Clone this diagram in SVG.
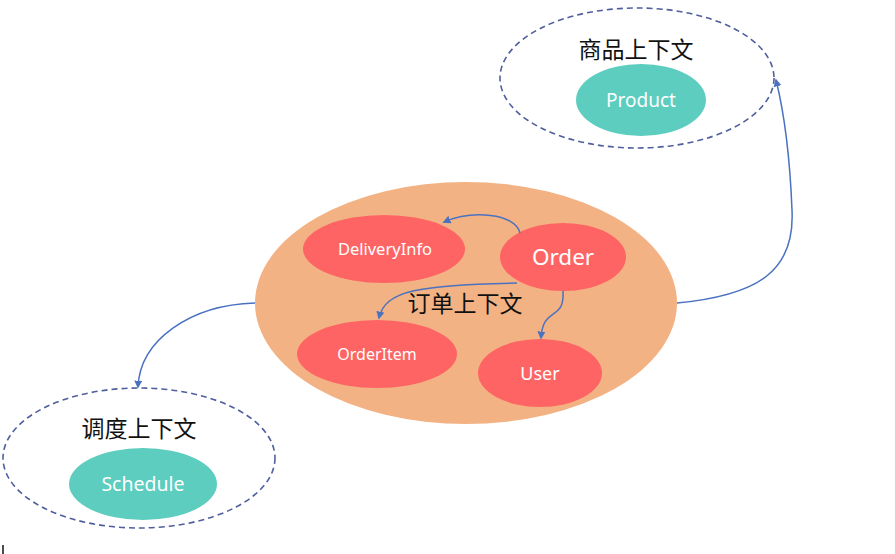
<svg xmlns="http://www.w3.org/2000/svg" width="895" height="554" viewBox="0 0 895 554">
<defs>
<style>
.ctx{fill:none;stroke:#4f5f9e;stroke-width:1.6;stroke-dasharray:6 4}
.teal{fill:#5ccdbf}
.red{fill:#fe6464}
.big{fill:#f3b283}
.lbl{font-family:"Noto Sans","Noto Sans CJK SC",sans-serif;fill:#ffffff;text-anchor:middle}
.title{font-family:"Noto Sans CJK SC","Noto Sans",sans-serif;fill:#111111;text-anchor:middle}
.conn{fill:none;stroke:#4a72c0;stroke-width:1.5;marker-end:url(#ah)}
</style>
<marker id="ah" viewBox="0 0 10 10" refX="8" refY="5" markerWidth="8" markerHeight="8" orient="auto-start-reverse" markerUnits="userSpaceOnUse">
<path d="M0,0 L10,5 L0,10 z" fill="#4a72c0"/>
</marker>
</defs>
<rect width="895" height="554" fill="#ffffff"/>
<g id="product-context">
<ellipse class="ctx" cx="637" cy="78" rx="137" ry="70"/>
<text class="title" x="636" y="58" font-size="23">商品上下文</text>
</g>
<g id="product">
<ellipse class="teal" cx="641" cy="100" rx="65" ry="36"/>
<text class="lbl" x="641" y="107" font-size="19">Product</text>
</g>
<g id="schedule-context">
<ellipse class="ctx" cx="139" cy="458" rx="136" ry="70"/>
<text class="title" x="139" y="437" font-size="23">调度上下文</text>
</g>
<g id="schedule">
<ellipse class="teal" cx="143" cy="484" rx="74" ry="36"/>
<text class="lbl" x="143" y="491" font-size="19.5">Schedule</text>
</g>
<g id="order-context">
<ellipse class="big" cx="466" cy="303" rx="211" ry="121"/>
<text class="title" x="465" y="312" font-size="23">订单上下文</text>
</g>
<g id="deliveryinfo">
<ellipse class="red" cx="384" cy="249" rx="81" ry="34"/>
<text class="lbl" x="385" y="255" font-size="16.5">DeliveryInfo</text>
</g>
<g id="order">
<ellipse class="red" cx="563" cy="257" rx="63" ry="34"/>
<text class="lbl" x="563" y="265" font-size="22.5">Order</text>
</g>
<g id="orderitem">
<ellipse class="red" cx="377" cy="354" rx="80" ry="34"/>
<text class="lbl" x="377" y="360" font-size="16">OrderItem</text>
</g>
<g id="user">
<ellipse class="red" cx="540" cy="373" rx="62" ry="34"/>
<text class="lbl" x="540" y="380" font-size="18">User</text>
</g>
<g id="connectors">
<path class="conn" d="M677,303 C760,295 795,270 792,210 C790,160 786,120 776,80"/>
<path class="conn" d="M255,303 C190,305 140,340 138,387"/>
<path class="conn" d="M520,233 C515,213 472,210 444,222"/>
<path class="conn" d="M517,283 C420,285 385,290 379,318"/>
<path class="conn" d="M563,291 C565,322 543,305 541,338"/>
</g>
<line x1="3" y1="545" x2="3" y2="554" stroke="#111111" stroke-width="1.5"/>
</svg>
